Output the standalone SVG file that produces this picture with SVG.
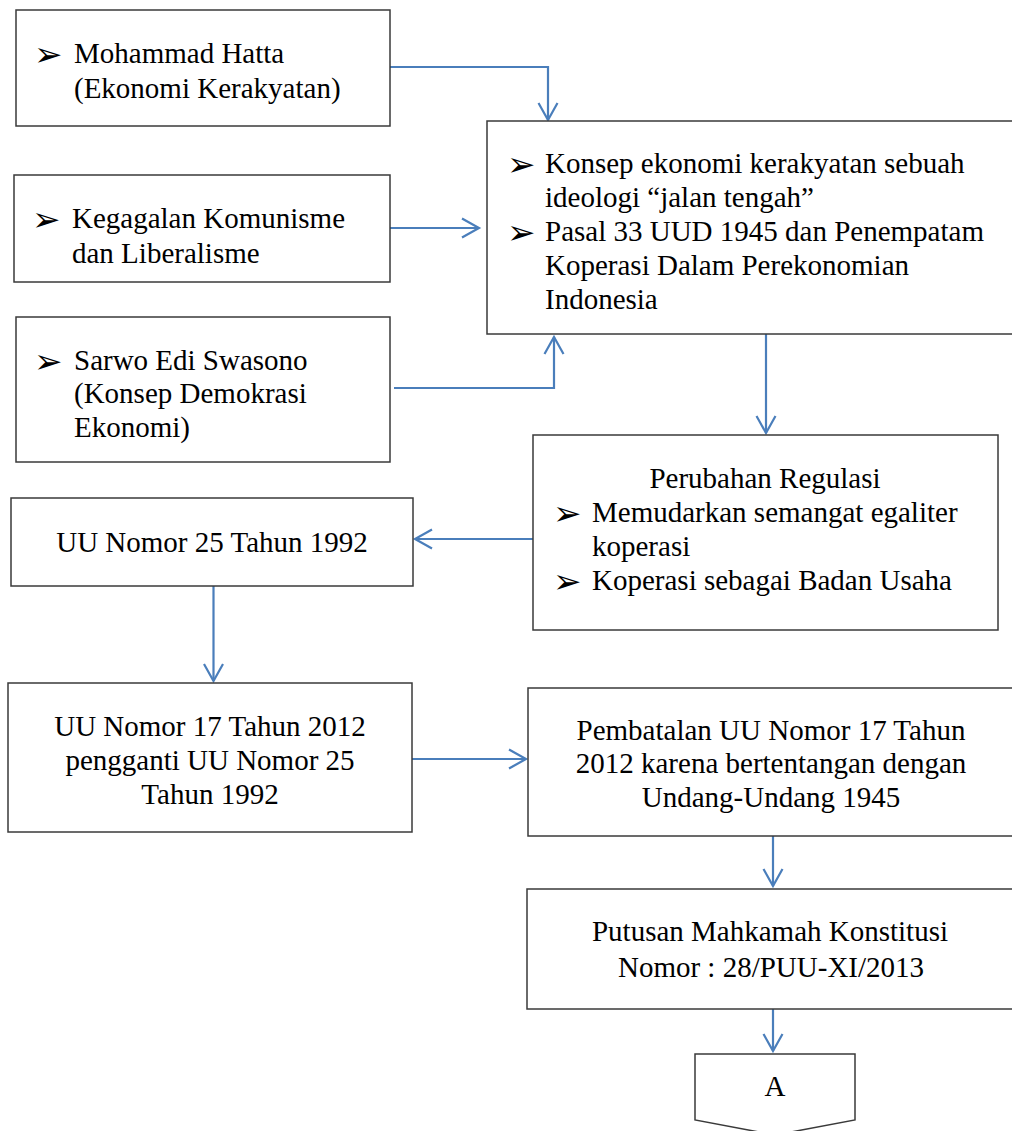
<svg xmlns="http://www.w3.org/2000/svg" width="1012" height="1131" viewBox="0 0 1012 1131">
<style>
.box{fill:#fff;stroke:#3a3a3a;stroke-width:1.5}
.t{font-family:"Liberation Serif","Times New Roman",serif;font-size:29px;fill:#000}
.c{text-anchor:middle}
.b{font-family:"DejaVu Sans",sans-serif;font-size:34px;fill:#000}
.conn{fill:none;stroke:#4A7EBB;stroke-width:2.2}
</style>
<defs>
<marker id="arr" markerUnits="userSpaceOnUse" markerWidth="22" markerHeight="24" refX="18" refY="11" orient="auto">
<path d="M1,1.5 L18,11 L1,20.5" fill="none" stroke="#4A7EBB" stroke-width="2.2"/>
</marker>
</defs>
<rect width="1012" height="1131" fill="#fff"/>
<g id="connectors">
<path class="conn" d="M390,67 H548 V120" marker-end="url(#arr)"/>
<path class="conn" d="M390,228 H479" marker-end="url(#arr)"/>
<path class="conn" d="M394,388 H554 V337" marker-end="url(#arr)"/>
<path class="conn" d="M766,334 V433" marker-end="url(#arr)"/>
<path class="conn" d="M534,539 H415" marker-end="url(#arr)"/>
<path class="conn" d="M213.5,586 V681" marker-end="url(#arr)"/>
<path class="conn" d="M412,759 H526" marker-end="url(#arr)"/>
<path class="conn" d="M773,836 V886" marker-end="url(#arr)"/>
<path class="conn" d="M773,1009 V1051" marker-end="url(#arr)"/>
</g>
<g id="hatta">
<rect class="box" x="16" y="10" width="374" height="116"/>
<text class="b" x="34" y="66">➢</text>
<text class="t" x="74" y="63">Mohammad Hatta</text>
<text class="t" x="74" y="98">(Ekonomi Kerakyatan)</text>
</g>
<g id="kegagalan">
<rect class="box" x="14" y="175" width="376" height="107"/>
<text class="b" x="32" y="231">➢</text>
<text class="t" x="72" y="228">Kegagalan Komunisme</text>
<text class="t" x="72" y="263">dan Liberalisme</text>
</g>
<g id="konsep">
<rect class="box" x="487" y="121" width="530" height="213"/>
<text class="b" x="507" y="176">➢</text>
<text class="t" x="545" y="173">Konsep ekonomi kerakyatan sebuah</text>
<text class="t" x="545" y="207">ideologi “jalan tengah”</text>
<text class="b" x="507" y="244">➢</text>
<text class="t" x="545" y="241">Pasal 33 UUD 1945 dan Penempatam</text>
<text class="t" x="545" y="275">Koperasi Dalam Perekonomian</text>
<text class="t" x="545" y="309">Indonesia</text>
</g>
<g id="sarwo">
<rect class="box" x="16" y="317" width="374" height="145"/>
<text class="b" x="34" y="373">➢</text>
<text class="t" x="74" y="370">Sarwo Edi Swasono</text>
<text class="t" x="74" y="403">(Konsep Demokrasi</text>
<text class="t" x="74" y="437">Ekonomi)</text>
</g>
<g id="uu25">
<rect class="box" x="11" y="498" width="402" height="88"/>
<text class="t c" x="212" y="552">UU Nomor 25 Tahun 1992</text>
</g>
<g id="perubahan">
<rect class="box" x="533" y="435" width="465" height="195"/>
<text class="t c" x="765" y="488">Perubahan Regulasi</text>
<text class="b" x="553" y="525">➢</text>
<text class="t" x="592" y="522">Memudarkan semangat egaliter</text>
<text class="t" x="592" y="556">koperasi</text>
<text class="b" x="553" y="593">➢</text>
<text class="t" x="592" y="590">Koperasi sebagai Badan Usaha</text>
</g>
<g id="uu17">
<rect class="box" x="8" y="683" width="404" height="149"/>
<text class="t c" x="210" y="736">UU Nomor 17 Tahun 2012</text>
<text class="t c" x="210" y="770">pengganti UU Nomor 25</text>
<text class="t c" x="210" y="804">Tahun 1992</text>
</g>
<g id="pembatalan">
<rect class="box" x="528" y="688" width="490" height="148"/>
<text class="t c" x="771" y="740">Pembatalan UU Nomor 17 Tahun</text>
<text class="t c" x="771" y="773">2012 karena bertentangan dengan</text>
<text class="t c" x="771" y="807">Undang-Undang 1945</text>
</g>
<g id="putusan">
<rect class="box" x="527" y="889" width="490" height="120"/>
<text class="t c" x="770" y="941">Putusan Mahkamah Konstitusi</text>
<text class="t c" x="771" y="977">Nomor : 28/PUU-XI/2013</text>
</g>
<g id="offpage-a">
<polygon class="box" points="695,1054 855,1054 855,1120 775,1135 695,1120"/>
<text class="t c" x="775" y="1096">A</text>
</g>
</svg>
